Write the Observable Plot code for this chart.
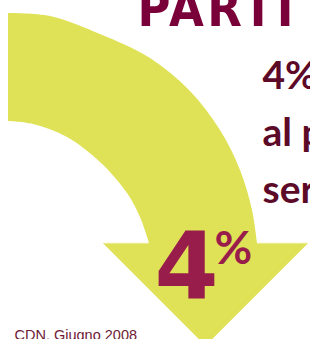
<!DOCTYPE html>
<html>
<head>
<meta charset="utf-8">
<script src="https://cdn.jsdelivr.net/npm/d3@7"></script>
<script src="https://cdn.jsdelivr.net/npm/@observablehq/plot@0.6"></script>
<style>
  html, body { margin: 0; padding: 0; background: #fff; }
  #chart { width: 310px; height: 339px; overflow: hidden; position: relative; }
  #chart svg { overflow: hidden; display: block; }
</style>
</head>
<body>
<div id="chart"></div>
<script>
// Values
const headline = ["PARTI"];
const sideLines = ["4%", "al p", "ser"];
const bigValue = ["4"];
const bigUnit = ["%"];
const source = ["CDN, Giugno 2008"];

// Arrow outline
const outerEdgeX = [8, 50, 100, 150, 190, 220, 240, 252, 257];
const outerEdgeY = [13, 16, 34, 58, 91, 130, 170, 210, 243];
const innerEdgeX = [8, 33, 67, 100, 127, 140, 149];
const innerEdgeY = [121, 124, 137, 162, 193, 217, 243];
const headX = [307, 205, 103];
const headY = [243, 345, 243];
const shaftBase = 243;

const outer = outerEdgeX.map((x, i) => ({x, y: outerEdgeY[i]}));
const inner = innerEdgeX.map((x, i) => ({x, y: innerEdgeY[i]}));
const head = headX.map((x, i) => ({x, y: headY[i]}));

const yellow = "#dfe256";

const chart = Plot.plot({
  width: 310,
  height: 339,
  margin: 0,
  x: {domain: [0, 310], range: [0, 310], axis: null},
  y: {domain: [0, 339], range: [0, 339], axis: null},
  marks: [
    Plot.areaY(outer, {x: "x", y1: "y", y2: shaftBase + 1, curve: "catmull-rom", fill: yellow}),
    Plot.areaY(inner, {x: "x", y1: "y", y2: shaftBase + 1, curve: "catmull-rom", fill: "white"}),
    Plot.line(head, {x: "x", y: "y", curve: "linear-closed", fill: yellow, stroke: yellow, strokeWidth: 0.5}),
    Plot.text(headline, {x: 137, y: 25, text: d => d, textAnchor: "start", lineAnchor: "bottom",
      fontSize: 50, fontWeight: 700, fontFamily: "'Liberation Sans Narrow', 'DejaVu Sans Condensed', sans-serif", fill: "#7a0039"}),
    Plot.text([sideLines.join("\n")], {x: 262, y: 202, text: d => d, textAnchor: "start", lineAnchor: "bottom",
      lineHeight: 1.46, fontSize: 39, fontWeight: 700, fontFamily: "Lato, sans-serif", fill: "#5c0a27"}),
    Plot.text(bigValue, {x: 154, y: 297, text: d => d, textAnchor: "start", lineAnchor: "bottom",
      fontSize: 92, fontWeight: 700, fontFamily: "'DejaVu Sans', sans-serif", fill: "#991d4b"}),
    Plot.text(bigUnit, {x: 214, y: 263, text: d => d, textAnchor: "start", lineAnchor: "bottom",
      fontSize: 46, fontWeight: 700, fontFamily: "Lato, sans-serif", fill: "#991d4b"}),
    Plot.text(source, {x: 14, y: 339, text: d => d, textAnchor: "start", lineAnchor: "bottom",
      fontSize: 14.5, fontWeight: 400, fontFamily: "'Liberation Sans', Arial, sans-serif", fill: "#6e1a35"})
  ]
});

d3.select(chart).selectAll("text").filter(function() { return this.textContent === "PARTI"; })
  .attr("textLength", 156).attr("lengthAdjust", "spacing");

document.getElementById("chart").appendChild(chart);
</script>
</body>
</html>
